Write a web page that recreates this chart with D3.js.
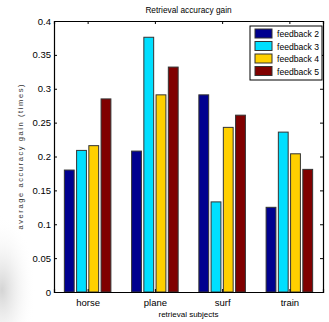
<!DOCTYPE html>
<html>
<head>
<meta charset="utf-8">
<script src="https://cdn.jsdelivr.net/npm/d3@7"></script>
<style>
  body { margin: 0; background: #fff; }
  text { font-family: "Liberation Sans", Arial, sans-serif; fill: #000; }
</style>
</head>
<body>
<div id="chart"></div>
<script>
var categories = ["horse", "plane", "surf", "train"];
var seriesNames = ["feedback 2", "feedback 3", "feedback 4", "feedback 5"];
var feedback2 = [0.180, 0.208, 0.291, 0.125];
var feedback3 = [0.209, 0.376, 0.133, 0.236];
var feedback4 = [0.216, 0.291, 0.243, 0.204];
var feedback5 = [0.285, 0.332, 0.261, 0.181];
var yTicks = [0, 0.05, 0.1, 0.15, 0.2, 0.25, 0.3, 0.35, 0.4];
var colors = ["#00008f", "#00dfff", "#ffd000", "#800000"];

var series = [feedback2, feedback3, feedback4, feedback5];

// set the dimensions and margins of the graph
var W = 329, H = 322;
var margin = { top: 21, right: 6, bottom: 30, left: 54 },
  width = W - margin.left - margin.right,
  height = H - margin.top - margin.bottom;

var root = d3.select("#chart").append("svg")
  .attr("width", W).attr("height", H);

// faint grey shading in the lower left corner of the scan
var defs = root.append("defs");
var grad = defs.append("radialGradient").attr("id", "shade");
grad.append("stop").attr("offset", "0%").attr("stop-color", "#d4d4d4");
grad.append("stop").attr("offset", "100%").attr("stop-color", "#ffffff").attr("stop-opacity", 0);
root.append("ellipse")
  .attr("cx", 2).attr("cy", 290)
  .attr("rx", 34).attr("ry", 75)
  .attr("fill", "url(#shade)");

var svg = root.append("g")
  .attr("transform", "translate(" + margin.left + "," + margin.top + ")");

// matlab style: groups at 1..n, limits at 0.5 .. n+0.5
var x = d3.scaleLinear()
  .domain([0.5, categories.length + 0.5])
  .range([0, width]);

var y = d3.scaleLinear()
  .domain([0, 0.4])
  .range([height, 0]);

var pitch = 0.182, barW = 0.146;

series.forEach(function(vals, j) {
  svg.selectAll(".bar" + j)
    .data(vals)
    .enter().append("rect")
    .attr("x", function(d, i) { return x(i + 1 + (j - 1.5) * pitch - barW / 2); })
    .attr("width", x(barW) - x(0))
    .attr("y", function(d) { return y(d); })
    .attr("height", function(d) { return y(0) - y(d); })
    .attr("fill", colors[j])
    .attr("stroke", "#333")
    .attr("stroke-width", 1);
});

var catTicks = categories.map(function(c, i) { return i + 1; });

// Y axis left (inward ticks)
var yAxis = svg.append("g")
  .call(d3.axisLeft(y).tickValues(yTicks).tickSize(-3).tickPadding(3)
    .tickFormat(function(d) { return d === 0 ? "0" : String(+d.toFixed(2)); }));

// Y axis right
svg.append("g")
  .attr("transform", "translate(" + width + ",0)")
  .call(d3.axisRight(y).tickValues(yTicks).tickSize(-3).tickFormat(""));

// X axis bottom
var xAxis = svg.append("g")
  .attr("transform", "translate(0," + height + ")")
  .call(d3.axisBottom(x).tickValues(catTicks).tickSize(-3).tickPadding(7)
    .tickFormat(function(d) { return categories[d - 1]; }));

// X axis top
svg.append("g")
  .call(d3.axisTop(x).tickValues(catTicks).tickSize(-3).tickFormat(""));

svg.selectAll(".domain").attr("stroke", "#000").attr("stroke-width", 1.2);
svg.selectAll(".tick line").attr("stroke", "#000");
svg.selectAll(".tick text")
  .style("font-size", "9.5px")
  .style("font-family", "Liberation Sans, Arial, sans-serif");

// title
svg.append("text")
  .attr("x", width / 2)
  .attr("y", -8)
  .style("text-anchor", "middle")
  .style("font-size", "8.3px")
  .text("Retrieval accuracy gain");

// text label for the x axis
svg.append("text")
  .attr("x", width / 2)
  .attr("y", height + 25)
  .style("text-anchor", "middle")
  .style("font-size", "8px")
  .text("retrieval subjects");

// text label for the y axis
svg.append("text")
  .attr("transform", "rotate(-90)")
  .attr("x", -136)
  .attr("y", -margin.left + 23)
  .attr("textLength", 145)
  .attr("lengthAdjust", "spacing")
  .style("text-anchor", "middle")
  .style("font-size", "7.5px")
  .style("fill", "#333")
  .text("average accuracy gain (times)");

// legend
var lg = svg.append("g")
  .attr("transform", "translate(" + (width - 73) + ",5)");
lg.append("rect")
  .attr("width", 72).attr("height", 54)
  .attr("fill", "#fff").attr("stroke", "#000").attr("stroke-width", 1);
seriesNames.forEach(function(name, j) {
  var row = lg.append("g").attr("transform", "translate(0," + (3 + j * 12.5) + ")");
  row.append("rect")
    .attr("x", 5).attr("y", 0)
    .attr("width", 17).attr("height", 9)
    .attr("fill", colors[j]).attr("stroke", "#333");
  row.append("text")
    .attr("x", 27).attr("y", 8)
    .style("font-size", "8.6px")
    .text(name);
});
</script>
</body>
</html>
